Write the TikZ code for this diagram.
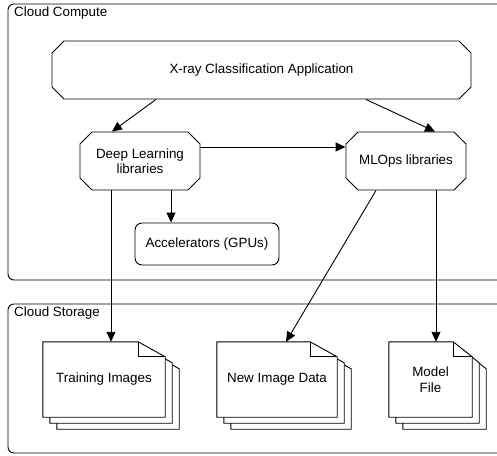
\documentclass[tikz,border=0pt]{standalone}
\usepackage{fontspec}
\setmainfont{Liberation Sans}
\usetikzlibrary{arrows.meta,shapes.misc,calc}

\tikzset{
  every node/.style={font=\fontsize{13.4}{15.5}\selectfont, align=center},
  zone/.style={draw, line width=0.9pt, rounded corners=6pt},
  chamfered/.style={chamfered rectangle, chamfered rectangle xsep=6pt,
    chamfered rectangle ysep=6pt, draw, line width=0.9pt, inner sep=0pt},
  roundbox/.style={rectangle, rounded corners=7pt, draw, line width=0.9pt, inner sep=0pt},
  docnode/.style={rectangle, inner sep=0pt},
  page/.style={draw, fill=white, line width=0.9pt},
}

% three stacked pages with a folded corner (#2 wide) behind a named node
\newcommand\docstack[2]{
  \foreach \d in {2,1,0}
    \draw[page] ([shift={(7*\d,6*\d)}]#1.north west)
      -- ([shift={(7*\d-#2,6*\d)}]#1.north east)
      -- ([shift={(7*\d,6*\d+15)}]#1.north east)
      -- ([shift={(7*\d,6*\d)}]#1.south east)
      -- ([shift={(7*\d,6*\d)}]#1.south west) -- cycle;
  \draw[line width=0.9pt] ([shift={(-#2,0)}]#1.north east) -- ++(0,15) -- ++(#2,0);
}

\begin{document}
\begin{tikzpicture}[x=1pt, y=-1pt]
  \useasboundingbox (0,0) rectangle (497,455);
  \clip (0,0) rectangle (497,455);

  % areas
  \draw[zone] (8,4) rectangle (520,280);
  \draw[zone] (8,304) rectangle (520,453);
  \node[anchor=north west, inner sep=0pt] (compute) at (14,7) {Cloud Compute};
  \node[anchor=north west, inner sep=0pt] (storage) at (14,307) {Cloud Storage};

  \node[chamfered, minimum width=419pt, minimum height=58pt] (app) at (261.5,70) {X-ray Classification Application};
  \node[chamfered, minimum width=120pt, minimum height=58pt] (dl) at (140,161) {Deep Learning\\libraries};
  \node[chamfered, minimum width=120pt, minimum height=58pt] (mlops) at (406,161) {MLOps libraries};
  \node[roundbox, minimum width=144pt, minimum height=42pt] (gpu) at (207,244) {Accelerators (GPUs)};

  \node[docnode, minimum width=122pt, minimum height=75pt] (train) at (104,379.5) {};
  \node[docnode, minimum width=120pt, minimum height=75pt] (newdata) at (277,379.5) {};
  \node[docnode, minimum width=83pt, minimum height=75pt] (model) at (430.5,379.5) {};
  \docstack{train}{27}
  \docstack{newdata}{27}
  \docstack{model}{19}
  \node at (train) {Training Images};
  \node at (newdata) {New Image Data};
  \node at (model) {Model\\File};

  \begin{scope}[->, >={Triangle[length=10pt,width=9pt]}, line width=0.9pt]
    \draw ([xshift=-105.5pt]app.south) to ([xshift=-28pt]dl.north);
    \draw ([xshift=104.5pt]app.south) to ([xshift=29pt]mlops.north);
    \draw ([yshift=14pt]dl.east) to ([yshift=14pt]mlops.west);
    \draw ([xshift=31pt]dl.south) to ([xshift=31pt]dl.south |- gpu.north);
    \draw ([xshift=-29pt]dl.south) to ([xshift=-29pt]dl.south |- train.north);
    \draw ([xshift=-30pt]mlops.south) to ([xshift=9pt]newdata.north);
    \draw ([xshift=30pt]mlops.south) to ([xshift=30pt]mlops.south |- model.north);
  \end{scope}
\end{tikzpicture}
\end{document}
